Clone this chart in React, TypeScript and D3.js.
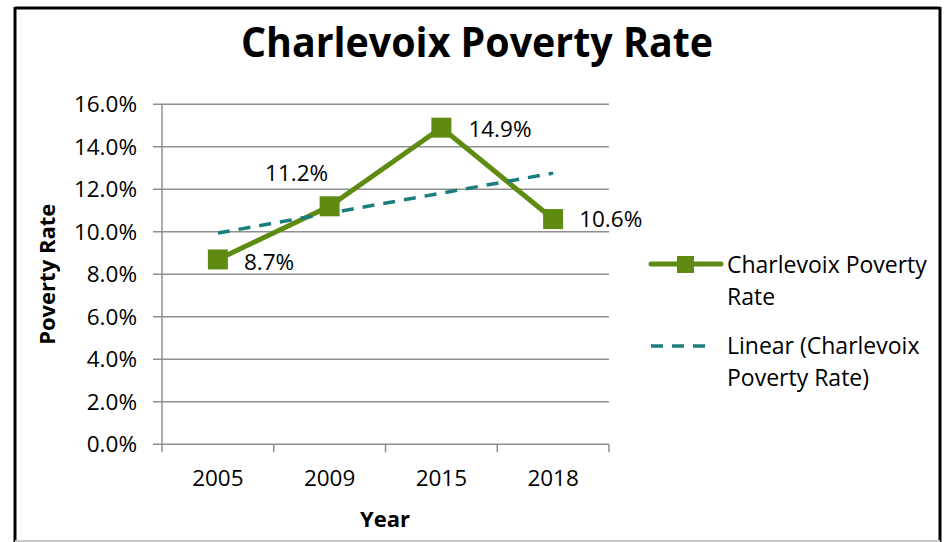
import React from "react";
import * as d3 from "d3";

const years = ["2005", "2009", "2015", "2018"];
const rates = [0.087, 0.112, 0.149, 0.106];
const rateLabels = ["8.7%", "11.2%", "14.9%", "10.6%"];
const yTicks = [0, 0.02, 0.04, 0.06, 0.08, 0.1, 0.12, 0.14, 0.16];
const seriesName = ["Charlevoix Poverty", "Rate"];
const trendName = ["Linear (Charlevoix", "Poverty Rate)"];
const title = "Charlevoix Poverty Rate";
const xTitle = "Year";
const yTitle = "Poverty Rate";

// label offsets (dx, dy) relative to each point
const labelOffsets: [number, number, string][] = [
  [26, 2, "start"],
  [-33, -33, "middle"],
  [27, 1, "start"],
  [26, 0, "start"],
];

const W = 947;
const H = 542;
const FONT = "'Open Sans', 'Noto Sans', sans-serif";
const GREEN = "#5f8b12";
const TEAL = "#1a7f7c";
const GRID = "#8f8f8f";

export default function App() {
  const x = d3.scaleBand<string>().domain(years).range([162, 609]).padding(0);
  const y = d3.scaleLinear().domain([0, 0.16]).range([444.3, 104.3]);
  const cx = (d: string) => (x(d) as number) + x.bandwidth() / 2;

  // linear trendline (least squares on category index)
  const idx = years.map((_, i) => i + 1);
  const mx = d3.mean(idx) as number;
  const my = d3.mean(rates) as number;
  const sxy = d3.sum(idx.map((v, i) => (v - mx) * (rates[i] - my)));
  const sxx = d3.sum(idx.map((v) => (v - mx) * (v - mx)));
  const slope = sxy / sxx;
  const inter = my - slope * mx;
  const t0 = inter + slope * idx[0];
  const t1 = inter + slope * idx[idx.length - 1];

  const line = d3
    .line<number>()
    .x((_, i) => cx(years[i]))
    .y((d) => y(d));

  const ms = 20;

  return (
    <svg
      width={W}
      height={H}
      style={{ position: "absolute", left: 0, top: 0, background: "#fff" }}
      fontFamily={FONT}
    >
      {/* outer border */}
      <rect x={0} y={0} width={W} height={H} fill="#fff" />
      <line x1={15} y1={8} x2={940} y2={8} stroke="#000" strokeWidth={3} />
      <line x1={15} y1={7} x2={15} y2={542} stroke="#000" strokeWidth={3} />
      <line x1={940} y1={7} x2={940} y2={542} stroke="#000" strokeWidth={3} />
      <line x1={15} y1={541} x2={940} y2={541} stroke="#c8c8c8" strokeWidth={2} />

      {/* title */}
      <text
        x={477}
        y={57}
        textAnchor="middle"
        fontWeight="bold"
        fontSize={42}
        textLength={472}
        lengthAdjust="spacingAndGlyphs"
        fill="#000"
      >
        {title}
      </text>

      {/* gridlines & y ticks */}
      {yTicks.map((t) => (
        <g key={t}>
          <line x1={153} x2={609} y1={y(t)} y2={y(t)} stroke={GRID} strokeWidth={1.5} />
          <text x={137} y={y(t)} dy="0.36em" textAnchor="end" fontSize={22.5} fill="#000">
            {d3.format(".1%")(t)}
          </text>
        </g>
      ))}
      {/* y axis */}
      <line x1={162} x2={162} y1={y(0.16)} y2={y(0)} stroke={GRID} strokeWidth={1.5} />
      {/* x ticks */}
      {[...years.map((d) => x(d) as number), 609].map((v, i) => (
        <line key={i} x1={v} x2={v} y1={y(0)} y2={y(0) + 8} stroke={GRID} strokeWidth={1.5} />
      ))}
      {years.map((d) => (
        <text key={d} x={cx(d)} y={478} dy="0.36em" textAnchor="middle" fontSize={22.5} fill="#000">
          {d}
        </text>
      ))}

      {/* axis titles */}
      <text x={385} y={519} dy="0.36em" textAnchor="middle" fontWeight="bold" fontSize={22} fill="#000">
        {xTitle}
      </text>
      <text
        transform={`translate(47,${(y(0) + y(0.16)) / 2}) rotate(-90)`}
        dy="0.36em"
        textAnchor="middle"
        fontWeight="bold"
        fontSize={22}
        fill="#000"
      >
        {yTitle}
      </text>

      {/* series line */}
      <path d={line(rates) as string} fill="none" stroke={GREEN} strokeWidth={5} strokeLinejoin="round" />
      {/* trendline */}
      <line
        x1={cx(years[0])}
        y1={y(t0)}
        x2={cx(years[years.length - 1])}
        y2={y(t1)}
        stroke={TEAL}
        strokeWidth={3.5}
        strokeDasharray="12 9"
      />
      {/* markers */}
      {rates.map((r, i) => (
        <rect key={i} x={cx(years[i]) - ms / 2} y={y(r) - ms / 2} width={ms} height={ms} fill={GREEN} />
      ))}
      {/* data labels */}
      {rates.map((r, i) => (
        <text
          key={i}
          x={cx(years[i]) + labelOffsets[i][0]}
          y={y(r) + labelOffsets[i][1]}
          dy="0.36em"
          textAnchor={labelOffsets[i][2] as any}
          fontSize={22.5}
          fill="#000"
        >
          {rateLabels[i]}
        </text>
      ))}

      {/* legend */}
      <line x1={651} x2={721} y1={264} y2={264} stroke={GREEN} strokeWidth={5} strokeLinecap="round" />
      <rect x={677} y={256} width={17} height={17} fill={GREEN} />
      {seriesName.map((s, i) => (
        <text key={s} x={727} y={265 + i * 31.5} dy="0.36em" fontSize={23} fill="#000">
          {s}
        </text>
      ))}
      <line x1={651} x2={709} y1={346} y2={346} stroke={TEAL} strokeWidth={3.5} strokeDasharray="12 9" />
      {trendName.map((s, i) => (
        <text key={s} x={727} y={346 + i * 31.5} dy="0.36em" fontSize={23} fill="#000">
          {s}
        </text>
      ))}
    </svg>
  );
}
